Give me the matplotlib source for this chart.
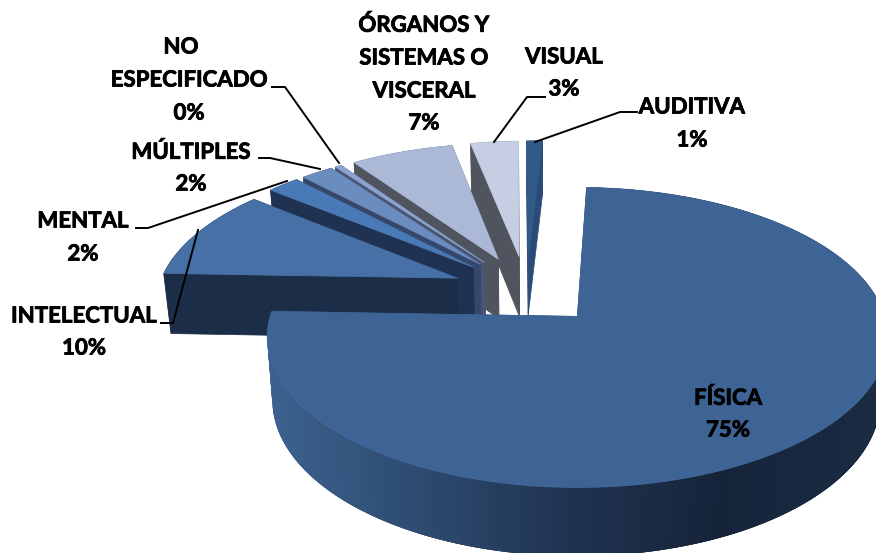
import numpy as np
import matplotlib
matplotlib.use("Agg")
import matplotlib.pyplot as plt
import matplotlib.patheffects as pe
from matplotlib.colors import LinearSegmentedColormap

# Clockwise from the top of the pie
categories = ["AUDITIVA", "FÍSICA", "INTELECTUAL", "MENTAL", "MÚLTIPLES",
              "NO ESPECIFICADO", "ÓRGANOS Y SISTEMAS O VISCERAL", "VISUAL"]
values = [1.0, 75.0, 10.2, 2.0, 2.0, 0.4, 6.4, 3.0]
top_colors = ["#325A87", "#3E6496", "#4670A6", "#4A7AB5", "#6A8CBF", "#8AA3D0", "#ABB9D6", "#C5CEE3"]
side_colors = ["#2A4B78", "#2D4B70", "#1C2E47", "#1F3251", "#33486B", "#4A5570", "#50545E", "#50545E"]
draw_order = [0, 7, 6, 5, 4, 3, 2, 1]

# Label lines: text, centre x, centre y
label_lines = [("AUDITIVA", 692, 107), ("1%", 692, 140),
               ("VISUAL", 564, 57), ("3%", 564, 89),
               ("ÓRGANOS Y", 424, 25), ("SISTEMAS O", 424, 58), ("VISCERAL", 424, 91), ("7%", 424, 123),
               ("NO", 181, 47), ("ESPECIFICADO", 189, 80), ("0%", 189, 113),
               ("MÚLTIPLES", 191, 152), ("2%", 191, 184),
               ("MENTAL", 83, 221), ("2%", 83, 254),
               ("INTELECTUAL", 84, 316), ("10%", 84, 348),
               ("FÍSICA", 728, 398), ("75%", 728, 430)]
leaders = [([637, 620, 535], [112, 112, 142]),
           ([545, 527, 494], [97, 97, 142]),
           ([272, 285, 339], [87, 87, 163]),
           ([259, 270, 320], [158, 158, 169]),
           ([136, 148, 287], [228, 228, 181]),
           ([161, 173, 198], [323, 323, 230])]

EXPLODE = 0.25
START_ANGLE = -1.6


def project(u, v):
    """Ground-plane coordinates to the picture, with perspective."""
    uF, vF = 0.166, 0.18
    t, w = u - uF, v - vF
    den = 1 - 0.14 * w
    return 576 + 307 * t / den, 316 + 147 * w / den


def lower(x, y):
    """Same point on the underside of the pie."""
    return 526 + 0.98 * (x - 526), y + 60 + 0.04 * (y - 270)


fig = plt.figure(figsize=(8.76, 5.53), dpi=100)
ax = fig.add_axes([0, 0, 1, 1])
ax.set_xlim(0, 876)
ax.set_ylim(553, 0)
ax.axis("off")

side_cmap = LinearSegmentedColormap.from_list(
    "side", ["#3C618E", "#2D4B70", "#1F3350", "#16243A", "#1A2B42"])

frac = np.array(values) / sum(values)
edges = np.deg2rad(START_ANGLE) + np.concatenate([[0], np.cumsum(frac)]) * 2 * np.pi

for i in draw_order:
    a0, a1 = edges[i], edges[i + 1]
    mid = (a0 + a1) / 2
    eu, ev = EXPLODE * np.sin(mid), -EXPLODE * np.cos(mid)
    th = np.linspace(a0, a1, max(8, int((a1 - a0) * 60)))
    rx, ry = project(eu + np.sin(th), ev - np.cos(th))
    ax_, ay_ = project(eu, ev)
    bx, by = lower(rx, ry)
    cx, cy = lower(ax_, ay_)

    # flat faces
    for j in (0, -1):
        ax.fill([ax_, rx[j], bx[j], cx], [ay_, ry[j], by[j], cy],
                color=side_colors[i], lw=0.5, zorder=1)
    # curved outer wall; each strip overlaps the next so no seams show
    n = len(th)
    for j in range(n - 1):
        k = min(j + 3, n - 1)
        if categories[i] == "FÍSICA":
            c = side_cmap(np.clip((rx[j] - 270) / 606, 0, 1))
        else:
            c = side_colors[i]
        ax.fill(np.r_[rx[j:k + 1], bx[j:k + 1][::-1]], np.r_[ry[j:k + 1], by[j:k + 1][::-1]],
                facecolor=c, edgecolor="none", lw=0, zorder=1)
    # top
    ax.fill(np.r_[ax_, rx], np.r_[ay_, ry], facecolor=top_colors[i],
            edgecolor=top_colors[i], lw=0.5, zorder=1)

for xs, ys in leaders:
    ax.plot(xs, ys, color="black", lw=1.4, zorder=3, solid_joinstyle="miter")

for text, x, y in label_lines:
    ax.text(x, y, text, ha="center", va="center", family="Lato", weight="bold",
            fontsize=16, color="black", zorder=4,
            path_effects=[pe.withStroke(linewidth=0.6, foreground="black")])

fig.savefig("out.png", dpi=100)
